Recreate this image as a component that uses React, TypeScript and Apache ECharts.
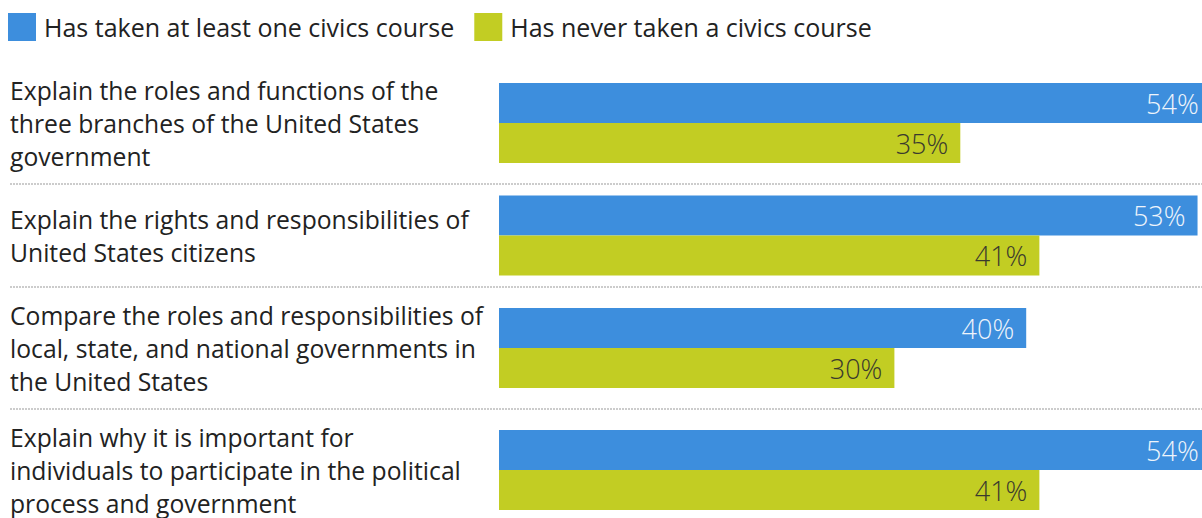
import React, { useEffect, useRef } from "react";
import * as echarts from "echarts";

const categories = [
  "Explain the roles and functions of the\nthree branches of the United States\ngovernment",
  "Explain the rights and responsibilities of\nUnited States citizens",
  "Compare the roles and responsibilities of\nlocal, state, and national governments in\nthe United States",
  "Explain why it is important for\nindividuals to participate in the political\nprocess and government",
];
const seriesNames = ["Has taken at least one civics course", "Has never taken a civics course"];
const takenValues = [54, 53, 40, 54];
const neverValues = [35, 41, 30, 41];

const BLUE = "#3d8edd";
const GREEN = "#c2cd23";
const FONT = "Open Sans";

const LINE_H = 33;
const BAR_W = 40;
const ROW_PAD = 23;
const FIRST_TOP = 62;
const GRID_LEFT = 499;
const PX_PER_PCT = 13.18;
const X_MAX = 60;
const LABEL_X = 10;

export default function App() {
  const ref = useRef<HTMLDivElement>(null);
  useEffect(() => {
    if (!ref.current) return;
    const chart = echarts.init(ref.current, null, { renderer: "svg" });

    const heights = categories.map(
      (c) => Math.max(BAR_W * 2, c.split("\n").length * LINE_H) + ROW_PAD
    );
    const tops: number[] = [];
    let acc = FIRST_TOP;
    heights.forEach((h) => {
      tops.push(acc);
      acc += h;
    });
    const gridWidth = X_MAX * PX_PER_PCT;

    const grids = categories.map((_, i) => ({
      left: GRID_LEFT,
      top: tops[i],
      width: gridWidth,
      height: heights[i],
    }));
    const xAxes = categories.map((_, i) => ({
      gridIndex: i,
      type: "value",
      min: 0,
      max: X_MAX,
      show: false,
    }));
    const yAxes = categories.map((c, i) => ({
      gridIndex: i,
      type: "category",
      data: [c],
      inverse: true,
      axisLine: { show: false },
      axisTick: { show: false },
      splitLine: { show: false },
      axisLabel: {
        align: "left",
        margin: GRID_LEFT - LABEL_X,
        fontSize: 24.7,
        lineHeight: LINE_H,
        color: "#222",
        fontFamily: FONT,
      },
    }));
    const series: any[] = [];
    categories.forEach((_, i) => {
      series.push({
        type: "bar",
        name: seriesNames[0],
        xAxisIndex: i,
        yAxisIndex: i,
        data: [takenValues[i]],
        barWidth: BAR_W,
        barGap: "0%",
        itemStyle: { color: BLUE },
        label: {
          show: true,
          position: "insideRight",
          distance: 12,
          formatter: "{c}%",
          color: "#eef4fb",
          fontSize: 27,
          fontWeight: 300,
          fontFamily: FONT,
        },
      });
      series.push({
        type: "bar",
        name: seriesNames[1],
        xAxisIndex: i,
        yAxisIndex: i,
        data: [neverValues[i]],
        barWidth: BAR_W,
        barGap: "0%",
        itemStyle: { color: GREEN },
        label: {
          show: true,
          position: "insideRight",
          distance: 12,
          formatter: "{c}%",
          color: "#3a3a2e",
          fontSize: 27,
          fontWeight: 300,
          fontFamily: FONT,
        },
      });
    });

    const separators = tops.slice(1).map((y) => ({
      type: "line",
      shape: { x1: LABEL_X, y1: y, x2: 1300, y2: y },
      style: { stroke: "#cccccc", lineWidth: 2, lineDash: [2, 1] },
      silent: true,
    }));

    chart.setOption({
      animation: false,
      legend: {
        data: seriesNames,
        left: 8,
        top: 13,
        padding: 0,
        itemWidth: 28,
        itemHeight: 28,
        itemGap: 20,
        icon: "rect",
        selectedMode: false,
        textStyle: { fontSize: 25, color: "#222", fontFamily: FONT, padding: [0, 0, 0, 3] },
      },
      grid: grids,
      xAxis: xAxes,
      yAxis: yAxes,
      series,
      graphic: separators,
    });
    return () => chart.dispose();
  }, []);

  return (
    <div
      style={{
        position: "absolute",
        left: 0,
        top: 0,
        width: 1202,
        height: 518,
        overflow: "hidden",
        background: "#fff",
      }}
    >
      <div ref={ref} style={{ width: 1300, height: 560 }} />
    </div>
  );
}
